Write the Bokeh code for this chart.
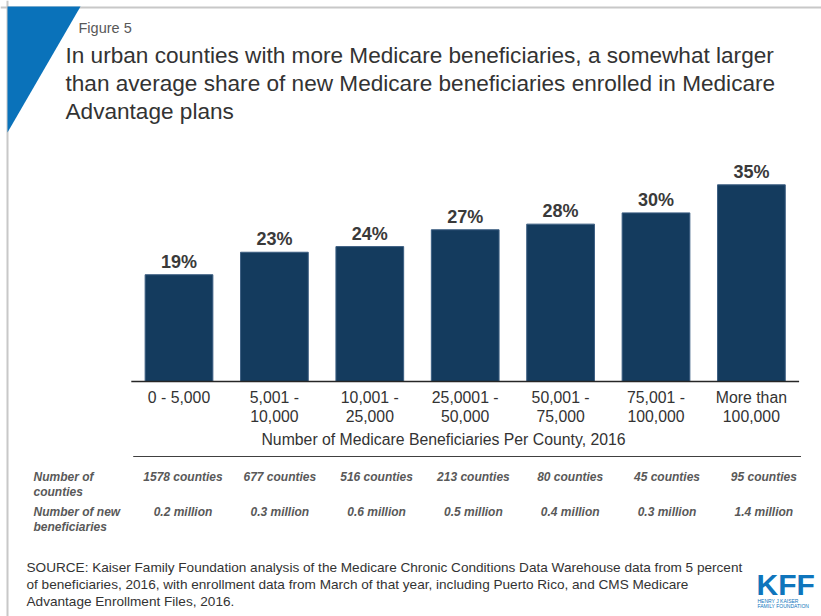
from bokeh.plotting import figure
from bokeh.models import Range1d, Label, Span, ColumnDataSource, PolyAnnotation
from bokeh.core.properties import value
from bokeh.embed import file_html
from bokeh.resources import INLINE

# ---------------- data ----------------
categories = ["0 - 5,000", "5,001 -\n10,000", "10,001 -\n25,000", "25,0001 -\n50,000",
              "50,001 -\n75,000", "75,001 -\n100,000", "More than\n100,000"]
share = [19, 23, 24, 27, 28, 30, 35]
counties = ["1578 counties", "677 counties", "516 counties", "213 counties",
            "80 counties", "45 counties", "95 counties"]
new_benef = ["0.2 million", "0.3 million", "0.6 million", "0.5 million",
             "0.4 million", "0.3 million", "1.4 million"]

# ---------------- layout constants (pixels) ----------------
W, H = 821, 616
OFF = 0            # page offset of the canvas
BAR0 = 178.5       # centre of first bar in the page
STEP = 95.4        # px per category
BASE = 381         # baseline in the page
PXU = 5.62         # px per percentage point
TSTEP = 96.8       # table column spacing
T0 = 182.5         # first table column centre
SEP = 456          # separator line above the table

x0 = -(BAR0 - OFF) / STEP
x1 = x0 + W / STEP
base_from_bottom = H - (BASE - OFF)
y0 = -base_from_bottom / PXU
y1 = (H - base_from_bottom) / PXU

n = len(categories)
idx = list(range(n))
tidx = [(T0 - BAR0) / STEP + i * TSTEP / STEP for i in idx]
src = ColumnDataSource(dict(
    x=idx, tx=tidx, share=share, zero=[0] * n,
    lbl=[f"{v}%" for v in share], cat=categories,
    counties=counties, newb=new_benef))

FONT = "Liberation Sans"
DARK = "#333333"
GREY = "#595959"

p = figure(width=W, height=H, x_range=Range1d(x0, x1), y_range=Range1d(y0, y1),
           output_backend="svg", toolbar_location=None, x_axis_type=None, y_axis_type=None,
           min_border=0, outline_line_color=None, background_fill_color="white",
           border_fill_color="white")
p.grid.visible = False

# bars
p.vbar(x="x", top="share", bottom=0, width=0.71, source=src,
       fill_color="#143b5e", line_color="#3c5e82", line_width=1)

# baseline
p.line(x=[-0.5, n - 0.5], y=[0, 0], line_color="#262626", line_width=1.6)
# separator above the table
sep_y = -(SEP - BASE) / PXU
p.line(x=[-0.48, n - 0.48], y=[sep_y, sep_y], line_color="#404040", line_width=1.1)

# value labels
p.text(x="x", y="share", text="lbl", source=src, text_align="center", text_baseline="middle",
       y_offset=-13, text_font=value(FONT), text_font_style="bold", text_font_size="18px",
       text_color="#3a3a3a")

# category labels
p.text(x="x", y="zero", text="cat", source=src, text_align="center", text_baseline="top",
       y_offset=7, text_font=value(FONT), text_font_size="15.8px", text_color=DARK,
       text_line_height=1.15)

# table rows
p.text(x="tx", y="zero", text="counties", source=src, text_align="center", text_baseline="middle",
       y_offset=476 - BASE, text_font=value(FONT), text_font_style="bold italic",
       text_font_size="12px", text_color=GREY)
p.text(x="tx", y="zero", text="newb", source=src, text_align="center", text_baseline="middle",
       y_offset=511 - BASE, text_font=value(FONT), text_font_style="bold italic",
       text_font_size="12px", text_color=GREY)


def lab(text, X, Y, size, color=DARK, style="normal", align="left"):
    p.add_layout(Label(x=X - OFF, y=H - (Y - OFF), x_units="screen", y_units="screen",
                       text=text, text_font=FONT, text_font_size=f"{size}px",
                       text_color=color, text_font_style=style, text_align=align,
                       text_baseline="middle"))


# border and corner triangle
p.add_layout(Span(location=H - 7, dimension="width", location_units="screen",
                  line_color="#c8c8c8", line_width=2))
p.add_layout(Span(location=7, dimension="height", location_units="screen",
                  line_color="#c8c8c8", line_width=2))
p.add_layout(PolyAnnotation(xs=[7, 80, 7], ys=[H - 6, H - 6, H - 132],
                            xs_units="screen", ys_units="screen",
                            fill_color="#0a72ba", fill_alpha=1, line_color=None))

# header texts
lab("Figure 5", 78, 27, 14.5, color=GREY)
lab("In urban counties with more Medicare beneficiaries, a somewhat larger", 65, 55, 22.6)
lab("than average share of new Medicare beneficiaries enrolled in Medicare", 65, 83, 22.6)
lab("Advantage plans", 65, 111, 22.6)

# axis title
lab("Number of Medicare Beneficiaries Per County, 2016", 443, 439, 15.8, align="center")

# table headers
lab("Number of", 33, 476, 12, color=GREY, style="bold italic")
lab("counties", 33, 491, 12, color=GREY, style="bold italic")
lab("Number of new", 33, 511, 12, color=GREY, style="bold italic")
lab("beneficiaries", 33, 526, 12, color=GREY, style="bold italic")

# source
lab("SOURCE: Kaiser Family Foundation analysis of the Medicare Chronic Conditions Data Warehouse data from 5 percent",
    26, 567, 13.6)
lab("of beneficiaries, 2016, with enrollment data from March of that year, including Puerto Rico, and CMS Medicare",
    26, 584, 13.6)
lab("Advantage Enrollment Files, 2016.", 26, 601, 13.6)

# logo
lab("KFF", 756, 584, 30, color="#0f75bc", style="bold")
lab("HENRY J KAISER", 757, 600, 5, color="#0f75bc")
lab("FAMILY FOUNDATION", 757, 605, 5, color="#0f75bc")

open("out.html", "w").write(file_html(p, INLINE))
